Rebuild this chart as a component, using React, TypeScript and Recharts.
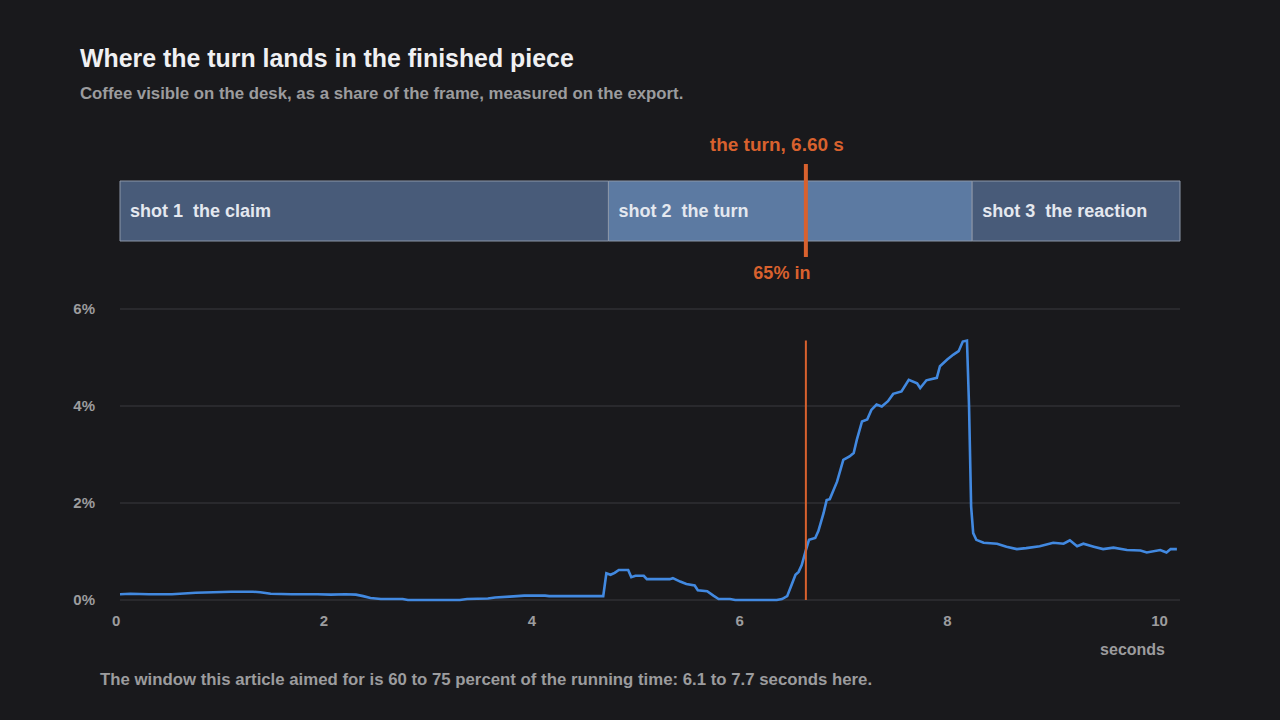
import React from 'react';
import { LineChart, Line, XAxis, YAxis, CartesianGrid, ReferenceLine, BarChart, Bar } from 'recharts';

// ---- data ----
const seconds = [
  0.00, 0.10, 0.28, 0.50, 0.73, 0.90, 1.07, 1.28, 1.35, 1.45, 1.65, 1.90, 2.03, 2.17, 2.27, 2.34,
  2.41, 2.51, 2.72, 2.77, 3.00, 3.27, 3.34, 3.54, 3.61, 3.75, 3.89, 4.09, 4.13, 4.40, 4.65, 4.68,
  4.72, 4.76, 4.80, 4.89, 4.92, 4.96, 5.04, 5.07, 5.29, 5.32, 5.39, 5.45, 5.53, 5.56, 5.65, 5.71,
  5.76, 5.87, 5.92, 6.10, 6.32, 6.37, 6.42, 6.46, 6.50, 6.53, 6.56, 6.60, 6.63, 6.69, 6.72, 6.77,
  6.80, 6.83, 6.90, 6.96, 7.02, 7.06, 7.09, 7.14, 7.19, 7.23, 7.28, 7.33, 7.39, 7.44, 7.52, 7.59,
  7.67, 7.70, 7.76, 7.86, 7.89, 7.96, 8.02, 8.07, 8.11, 8.15, 8.17, 8.19, 8.21, 8.24, 8.31, 8.44,
  8.53, 8.63, 8.72, 8.85, 8.98, 9.08, 9.14, 9.21, 9.27, 9.37, 9.46, 9.56, 9.69, 9.82, 9.88, 10.01,
  10.07, 10.11, 10.17,
];

const coffeeShare = [
  0.12, 0.13, 0.12, 0.12, 0.15, 0.16, 0.17, 0.17, 0.16, 0.13, 0.12, 0.12, 0.11, 0.12, 0.11, 0.08,
  0.04, 0.02, 0.02, 0.00, 0.00, 0.00, 0.02, 0.03, 0.05, 0.07, 0.09, 0.09, 0.08, 0.08, 0.08, 0.55,
  0.52, 0.56, 0.62, 0.62, 0.47, 0.50, 0.50, 0.43, 0.43, 0.45, 0.38, 0.33, 0.30, 0.20, 0.18, 0.09,
  0.02, 0.02, 0.00, 0.00, 0.00, 0.02, 0.08, 0.30, 0.52, 0.58, 0.72, 1.03, 1.24, 1.28, 1.42, 1.79,
  2.06, 2.08, 2.44, 2.89, 2.96, 3.03, 3.30, 3.68, 3.72, 3.92, 4.03, 3.99, 4.10, 4.25, 4.30, 4.54,
  4.47, 4.37, 4.53, 4.58, 4.82, 4.96, 5.06, 5.13, 5.33, 5.35, 4.00, 1.93, 1.38, 1.24, 1.18, 1.16,
  1.10, 1.05, 1.07, 1.11, 1.18, 1.16, 1.23, 1.11, 1.16, 1.10, 1.05, 1.08, 1.03, 1.02, 0.98, 1.03,
  0.98, 1.05, 1.05,
];

const xTicks = [0, 2, 4, 6, 8, 10];
const yTicks = [0, 2, 4, 6];
const shotNames = ['shot 1  the claim', 'shot 2  the turn', 'shot 3  the reaction'];
const shotLengths = [4.7, 3.5, 2.0];
const turnTime = 6.6;
const turnShare = '65% in';
const runningTime = 10.2;

// ---- styling ----
const FONT = '"Liberation Sans", Arial, Helvetica, sans-serif';
const BG = '#19191c';
const MUTED = '#9c9c9e';
const ORANGE = '#d8612e';
const BLUE = '#4289e0';
const shotFills = ['#485b79', '#5c7aa2', '#485b79'];

const lineData = seconds.map((t, i) => ({ t, v: coffeeShare[i] }));
const peak = Math.max(...coffeeShare);
const shotRow = [
  shotLengths.reduce((acc: any, len, i) => ({ ...acc, [`s${i}`]: len }), { name: 'shots' }),
];

const XTick = (props: any) => {
  const { x, y, payload } = props;
  return (
    <text x={x - 8} y={y + 26} textAnchor="start" fill={MUTED} fontSize={15} fontWeight={700} fontFamily={FONT}>
      {payload.value}
    </text>
  );
};

const TurnLabels = (props: any) => {
  const vb = props.viewBox || {};
  const x = vb.x ?? 0;
  const y0 = Math.min(vb.y, vb.y + (vb.height || 0));
  const y1 = Math.max(vb.y, vb.y + (vb.height || 0));
  return (
    <g>
      <text x={x - 29} y={y0 - 13} textAnchor="middle" fill={ORANGE} fontSize={19} fontWeight={700} fontFamily={FONT}>
        {`the turn, ${turnTime.toFixed(2)} s`}
      </text>
      <text x={x - 24} y={y1 + 22} textAnchor="middle" fill={ORANGE} fontSize={18} fontWeight={700} fontFamily={FONT}>
        {turnShare}
      </text>
    </g>
  );
};

const shotLabel = (i: number) => (p: any) => (
  <text
    x={p.x + 10}
    y={p.y + p.height / 2}
    dy="0.35em"
    fill="#e4e8ef"
    fontSize={18}
    fontWeight={700}
    fontFamily={FONT}
    style={{ whiteSpace: 'pre' }}
  >
    {shotNames[i]}
  </text>
);

export default function App() {
  return (
    <div style={{ position: 'fixed', left: 0, top: 0, width: 1280, height: 720, background: BG, fontFamily: FONT, overflow: 'hidden' }}>
      <div style={{ position: 'absolute', left: 80, top: 46, fontSize: 24.9, lineHeight: 1, fontWeight: 700, color: '#f0f0f2', whiteSpace: 'nowrap' }}>
        Where the turn lands in the finished piece
      </div>
      <div style={{ position: 'absolute', left: 80, top: 86, fontSize: 16.8, lineHeight: 1, fontWeight: 700, color: MUTED, whiteSpace: 'nowrap' }}>
        Coffee visible on the desk, as a share of the frame, measured on the export.
      </div>

      <div style={{ position: 'absolute', left: 0, top: 0 }}>
        <LineChart width={1280} height={720} data={lineData} margin={{ top: 309, right: 100, bottom: 90, left: 60 }}>
          <CartesianGrid vertical={false} stroke="#3b3b3e" strokeWidth={1} />
          <XAxis
            type="number"
            dataKey="t"
            domain={[0, runningTime]}
            ticks={xTicks}
            interval={0}
            tickLine={false}
            axisLine={false}
            tickSize={0}
            tickMargin={0}
            height={30}
            tick={<XTick />}
          />
          <YAxis
            type="number"
            domain={[0, 6]}
            ticks={yTicks}
            interval={0}
            tickFormatter={(v: number) => `${v}%`}
            width={60}
            tickLine={false}
            axisLine={false}
            tickSize={0}
            tickMargin={25}
            tick={{ fill: MUTED, fontSize: 15, fontWeight: 700, fontFamily: FONT }}
          />
          <Line type="linear" dataKey="v" stroke={BLUE} strokeWidth={2.6} dot={false} isAnimationActive={false} />
          <ReferenceLine
            segment={[{ x: turnTime, y: 0 }, { x: turnTime, y: peak }]}
            stroke={ORANGE}
            strokeWidth={2}
          />
        </LineChart>
      </div>

      <div style={{ position: 'absolute', left: 0, top: 130 }}>
        <BarChart
          width={1280}
          height={160}
          layout="vertical"
          data={shotRow}
          margin={{ top: 34, right: 100, bottom: 33, left: 120 }}
          barCategoryGap={0}
        >
          <XAxis type="number" domain={[0, runningTime]} hide />
          <YAxis type="category" dataKey="name" hide />
          {shotNames.map((n, i) => (
            <Bar
              key={n}
              dataKey={`s${i}`}
              stackId="shots"
              fill={shotFills[i]}
              stroke="#8c97a8"
              strokeWidth={1}
              barSize={60}
              isAnimationActive={false}
              label={shotLabel(i)}
            />
          ))}
          <ReferenceLine x={turnTime} stroke={ORANGE} strokeWidth={4} label={<TurnLabels />} />
        </BarChart>
      </div>

      <div style={{ position: 'absolute', right: 115, top: 641.5, fontSize: 16, lineHeight: 1, fontWeight: 700, color: MUTED, whiteSpace: 'nowrap' }}>
        seconds
      </div>
      <div style={{ position: 'absolute', left: 100, top: 671.5, fontSize: 16.8, lineHeight: 1, fontWeight: 700, color: MUTED, whiteSpace: 'nowrap' }}>
        The window this article aimed for is 60 to 75 percent of the running time: 6.1 to 7.7 seconds here.
      </div>
    </div>
  );
}
